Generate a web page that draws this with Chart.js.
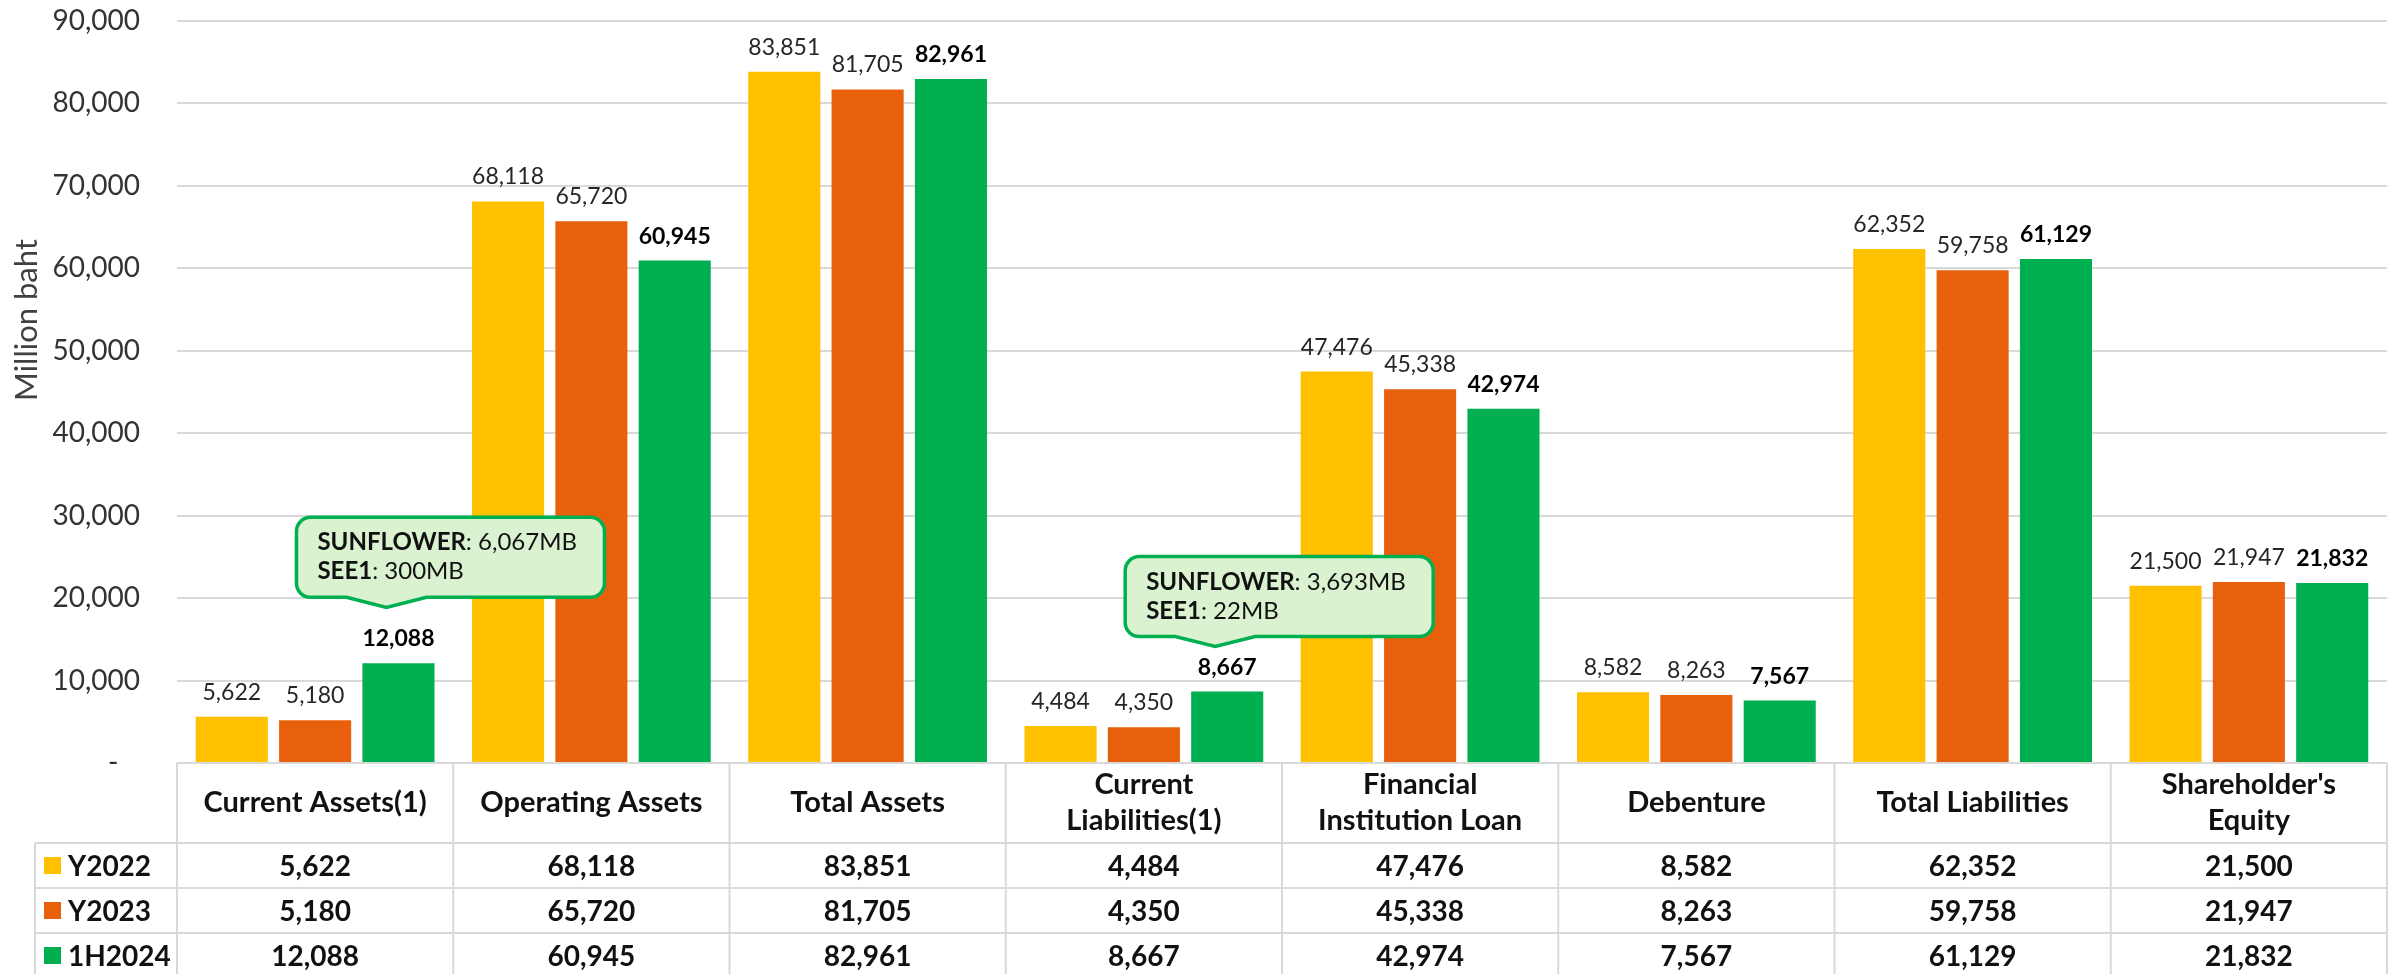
<!DOCTYPE html>
<html>
<head>
<meta charset="utf-8">
<script src="https://cdn.jsdelivr.net/npm/chart.js@4.4.1/dist/chart.umd.min.js"></script>
<style>
  html, body { margin: 0; padding: 0; background: #fff; }
  #wrap { width: 2403px; height: 974px; position: relative; }
</style>
</head>
<body>
<div id="wrap"><canvas id="chart"></canvas></div>
<script>
// ข้อมูลกราฟ (Million baht)
const categories = [
  ['Current Assets(1)'], ['Operating Assets'], ['Total Assets'],
  ['Current', 'Liabilities(1)'], ['Financial', 'Institution Loan'],
  ['Debenture'], ['Total Liabilities'], ["Shareholder's", 'Equity']
];
const seriesNames = ['Y2022', 'Y2023', '1H2024'];
const y2022 = [5622, 68118, 83851, 4484, 47476, 8582, 62352, 21500];
const y2023 = [5180, 65720, 81705, 4350, 45338, 8263, 59758, 21947];
const h2024 = [12088, 60945, 82961, 8667, 42974, 7567, 61129, 21832];
const yMax = 90000;
const yStep = 10000;
const yTitle = 'Million baht';

// กล่องข้อความ (callout) เหนือแท่ง 1H2024
const calloutCategory = [0, 3];
const calloutLines = [
  [['SUNFLOWER', ': 6,067MB'], ['SEE1', ': 300MB']],
  [['SUNFLOWER', ': 3,693MB'], ['SEE1', ': 22MB']]
];

const colors = ['#FFC000', '#E9600C', '#00B050'];
const FONT = 'Lato, "Open Sans", sans-serif';
const fmt = v => v.toLocaleString('en-US');

// ชื่อแกน Y (วางให้สูงกว่ากึ่งกลางเล็กน้อยแบบต้นฉบับ)
const axisTitle = {
  id: 'axisTitle',
  afterDraw(chart) {
    const ctx = chart.ctx;
    ctx.save();
    ctx.translate(37, 320);
    ctx.rotate(-Math.PI / 2);
    ctx.font = '31px ' + FONT;
    ctx.fillStyle = '#404040';
    ctx.textAlign = 'center';
    ctx.textBaseline = 'alphabetic';
    ctx.fillText(yTitle, 0, 0);
    ctx.restore();
  }
};

// ตัวเลขบนแท่ง
const barLabels = {
  id: 'barLabels',
  afterDatasetsDraw(chart) {
    const ctx = chart.ctx;
    ctx.save();
    ctx.textAlign = 'center';
    ctx.textBaseline = 'alphabetic';
    chart.data.datasets.forEach((ds, di) => {
      const meta = chart.getDatasetMeta(di);
      ctx.font = (di === 2 ? 'bold ' : '') + '23px ' + FONT;
      ctx.fillStyle = di === 2 ? '#000' : '#262626';
      meta.data.forEach((bar, i) => {
        ctx.fillText(fmt(ds.data[i]), bar.x, bar.y - 17);
      });
    });
    ctx.restore();
  }
};

// callouts
const callouts = {
  id: 'callouts',
  afterDatasetsDraw(chart) {
    const ctx = chart.ctx;
    const meta = chart.getDatasetMeta(2);
    const lifts = [56, 45];
    ctx.save();
    calloutCategory.forEach((ci, k) => {
      const bar = meta.data[ci];
      const tipX = bar.x - 12, tipY = bar.y - lifts[k];
      const w = 308, h = 80, r = 14;
      const left = tipX - 90, bottom = tipY - 10, top = bottom - h, right = left + w;
      ctx.beginPath();
      ctx.moveTo(left + r, top);
      ctx.lineTo(right - r, top);
      ctx.arcTo(right, top, right, top + r, r);
      ctx.lineTo(right, bottom - r);
      ctx.arcTo(right, bottom, right - r, bottom, r);
      ctx.lineTo(tipX + 40, bottom);
      ctx.lineTo(tipX, tipY);
      ctx.lineTo(tipX - 40, bottom);
      ctx.lineTo(left + r, bottom);
      ctx.arcTo(left, bottom, left, bottom - r, r);
      ctx.lineTo(left, top + r);
      ctx.arcTo(left, top, left + r, top, r);
      ctx.closePath();
      ctx.fillStyle = '#DAF2D0';
      ctx.fill();
      ctx.lineWidth = 3.5;
      ctx.strokeStyle = '#00B050';
      ctx.stroke();

      ctx.fillStyle = '#111';
      ctx.textAlign = 'left';
      ctx.textBaseline = 'alphabetic';
      calloutLines[k].forEach((ln, j) => {
        const y = top + 33 + j * 29;
        ctx.font = 'bold 24px ' + FONT;
        ctx.fillText(ln[0], left + 21, y);
        const bw = ctx.measureText(ln[0]).width;
        ctx.font = '24px ' + FONT;
        ctx.fillText(ln[1], left + 21 + bw, y);
      });
    });
    ctx.restore();
  }
};

// ตารางข้อมูลใต้กราฟ
const dataTable = {
  id: 'dataTable',
  afterDraw(chart) {
    const ctx = chart.ctx;
    const area = chart.chartArea;
    const xs = chart.scales.x;
    const n = categories.length;
    const cw = (area.right - area.left) / n;
    const top = area.bottom;
    const headBottom = top + 80;
    const rowH = 45;
    const rowLeft = 35;
    const bottomY = chart.height + 5;
    const series = [y2022, y2023, h2024];

    ctx.save();
    ctx.strokeStyle = '#D9D9D9';
    ctx.lineWidth = 2;
    ctx.beginPath();
    ctx.moveTo(area.left, top);
    ctx.lineTo(area.right, top);
    for (let r = 0; r < 3; r++) {
      const y = headBottom + r * rowH;
      ctx.moveTo(rowLeft, y);
      ctx.lineTo(area.right, y);
    }
    for (let i = 0; i <= n; i++) {
      const x = area.left + i * cw;
      ctx.moveTo(x, top);
      ctx.lineTo(x, bottomY);
    }
    ctx.moveTo(rowLeft, headBottom);
    ctx.lineTo(rowLeft, bottomY);
    ctx.stroke();

    ctx.textBaseline = 'middle';
    series.forEach((vals, r) => {
      const cy = headBottom + r * rowH + rowH / 2;
      ctx.fillStyle = colors[r];
      ctx.fillRect(44, cy - 8.5, 17, 17);
      ctx.fillStyle = '#111';
      ctx.font = 'bold 28px ' + FONT;
      ctx.textAlign = 'left';
      ctx.fillText(seriesNames[r], 68, cy + 1);
      ctx.textAlign = 'center';
      vals.forEach((v, i) => {
        ctx.fillText(fmt(v), xs.getPixelForValue(i), cy + 1);
      });
    });
    ctx.restore();
  }
};

new Chart(document.getElementById('chart'), {
  type: 'bar',
  data: {
    labels: categories,
    datasets: [
      { label: seriesNames[0], data: y2022, backgroundColor: colors[0] },
      { label: seriesNames[1], data: y2023, backgroundColor: colors[1] },
      { label: seriesNames[2], data: h2024, backgroundColor: colors[2] }
    ]
  },
  options: {
    responsive: true,
    maintainAspectRatio: false,
    animation: false,
    devicePixelRatio: 1,
    datasets: { bar: { barPercentage: 0.865, categoryPercentage: 0.905 } },
    layout: { padding: { top: 21, right: 16, left: 0, bottom: 0 } },
    plugins: {
      legend: { display: false },
      tooltip: { enabled: false }
    },
    scales: {
      x: {
        grid: { display: false, drawTicks: false },
        border: { display: false },
        ticks: {
          autoSkip: false,
          maxRotation: 0,
          minRotation: 0,
          padding: 22,
          crossAlign: 'center',
          color: '#111',
          font: { family: FONT, size: 29, weight: 'bold', lineHeight: 1.24 }
        },
        afterFit(scale) { scale.height = 211; }
      },
      y: {
        min: 0,
        max: yMax,
        grid: { color: '#D9D9D9', lineWidth: 2, drawTicks: true, tickLength: 37, tickColor: 'rgba(0,0,0,0)' },
        border: { display: false },
        ticks: {
          stepSize: yStep,
          padding: 0,
          color: '#333',
          font: { family: FONT, size: 28 },
          callback: v => v === 0 ? '-   ' : fmt(v)
        },
        afterFit(scale) { scale.width = 177; }
      }
    }
  },
  plugins: [barLabels, callouts, dataTable, axisTitle]
});
</script>
</body>
</html>
